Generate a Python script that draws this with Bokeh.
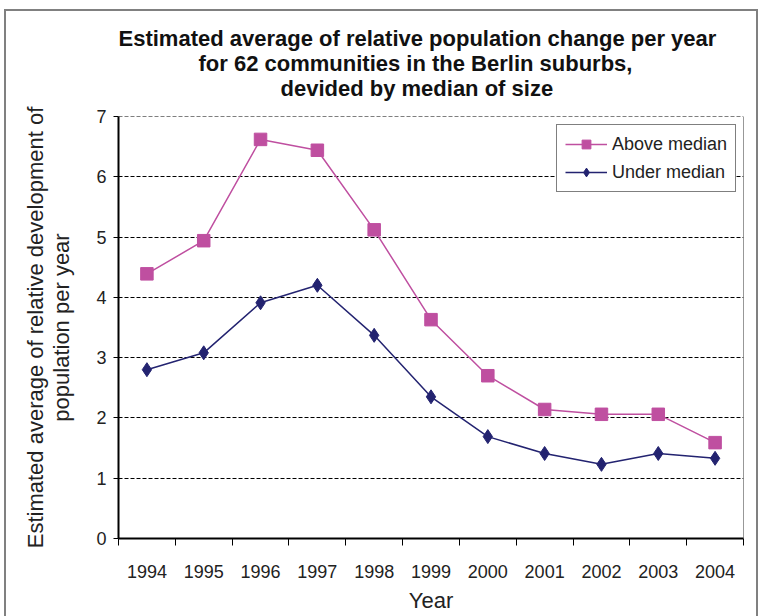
from bokeh.plotting import figure
from bokeh.models import FixedTicker, Span, Legend, LegendItem, Range1d, Title
from bokeh.embed import file_html
from bokeh.resources import INLINE

years = [1994, 1995, 1996, 1997, 1998, 1999, 2000, 2001, 2002, 2003, 2004]
above_median = [4.39, 4.94, 6.62, 6.44, 5.12, 3.63, 2.70, 2.14, 2.06, 2.06, 1.59]
under_median = [2.80, 3.08, 3.91, 4.20, 3.37, 2.35, 1.69, 1.41, 1.23, 1.41, 1.33]
y_ticks = [0, 1, 2, 3, 4, 5, 6, 7]
title_lines = ["Estimated average of relative population change per year",
               "for 62 communities in the Berlin suburbs,",
               "devided by median of size"]
title_offsets = [0, 80, 162]   # left indent (px) of each title line from the frame's left edge

FONT = "Liberation Sans"
PINK = "#BF4FA0"
NAVY = "#232370"

X0, X1 = years[0] - 0.5, years[-1] + 0.5
Y0, Y1 = y_ticks[0], y_ticks[-1]

p = figure(width=750, height=605, output_backend="svg", toolbar_location=None,
           x_range=Range1d(X0, X1), y_range=Range1d(Y0, Y1),
           frame_width=625, frame_height=422,
           min_border_left=112, min_border_right=13, min_border_top=105, min_border_bottom=78)
p.styles = {"border-left": "2px solid #808080", "border-top": "2px solid #808080",
            "border-right": "2px solid #808080", "margin-left": "4px", "margin-top": "9px"}
p.title.visible = False

# spacer between title block and frame
p.add_layout(Title(text=" ", text_font_size="1px", standoff=14), "above")
# title lines: first added sits closest to the frame
for i in (2, 1, 0):
    p.add_layout(Title(text=title_lines[i], align="left", offset=title_offsets[i],
                       standoff=-2,
                       text_font=FONT, text_font_size="22px", text_font_style="bold",
                       text_color="#111111", text_line_height=1.0), "above")

p.xgrid.grid_line_color = None
p.ygrid.grid_line_color = "black"
p.ygrid.grid_line_dash = "4 2"
p.ygrid.grid_line_width = 1
p.outline_line_color = None

# x axis
p.xaxis.ticker = FixedTicker(ticks=years, minor_ticks=[y - 0.5 for y in years] + [years[-1] + 0.5])
p.xaxis.major_tick_line_color = None
p.xaxis.major_tick_out = 0
p.xaxis.major_tick_in = 0
p.xaxis.minor_tick_line_color = "black"
p.xaxis.minor_tick_out = 7
p.xaxis.minor_tick_in = 0
p.xaxis.major_label_standoff = 19
p.xaxis.axis_line_width = 2
p.xaxis.axis_line_color = "black"
p.xaxis.axis_label = "Year"
p.xaxis.axis_label_standoff = 7

# y axis
p.yaxis.ticker = FixedTicker(ticks=y_ticks)
p.yaxis.minor_tick_line_color = None
p.yaxis.major_tick_out = 5
p.yaxis.major_tick_in = 0
p.yaxis.major_tick_line_color = "black"
p.yaxis.axis_line_width = 2
p.yaxis.axis_line_color = "black"
p.yaxis.major_label_standoff = 7
p.yaxis.axis_label = "Estimated average of relative development of\npopulation per year"
p.yaxis.axis_label_standoff = 19
p.yaxis.axis_label_text_line_height = 1.05

for ax in (p.xaxis, p.yaxis):
    ax.major_label_text_font = FONT
    ax.major_label_text_font_size = "18px"
    ax.major_label_text_color = "#222222"
    ax.axis_label_text_font = FONT
    ax.axis_label_text_font_size = "22px"
    ax.axis_label_text_font_style = "normal"
    ax.axis_label_text_color = "#222222"

p.add_layout(Span(location=X1, dimension="height", line_color="#333333", line_width=1))
p.add_layout(Span(location=Y1, dimension="width", line_color="black", line_width=1, line_dash="4 2"))

l1 = p.line(years, above_median, line_color=PINK, line_width=1.5)
m1 = p.scatter(years, above_median, marker="square", size=12.5, fill_color=PINK, line_color=PINK)
l2 = p.line(years, under_median, line_color=NAVY, line_width=1.5)
m2 = p.scatter(years, under_median, marker="diamond", size=14, fill_color=NAVY, line_color=NAVY)

legend = Legend(items=[LegendItem(label="Above median", renderers=[l1, m1]),
                       LegendItem(label="Under median", renderers=[l2, m2])],
                location=(438, 346))
legend.margin = 0
legend.padding = 8
legend.spacing = 6
legend.label_height = 22
legend.glyph_height = 22
legend.glyph_width = 42
legend.label_standoff = 5
legend.label_text_font = FONT
legend.label_text_font_size = "18px"
legend.label_text_color = "#222222"
legend.border_line_color = "black"
legend.border_line_width = 1
legend.background_fill_color = "white"
legend.background_fill_alpha = 1
p.add_layout(legend)

open("out.html", "w").write(file_html(p, INLINE))
